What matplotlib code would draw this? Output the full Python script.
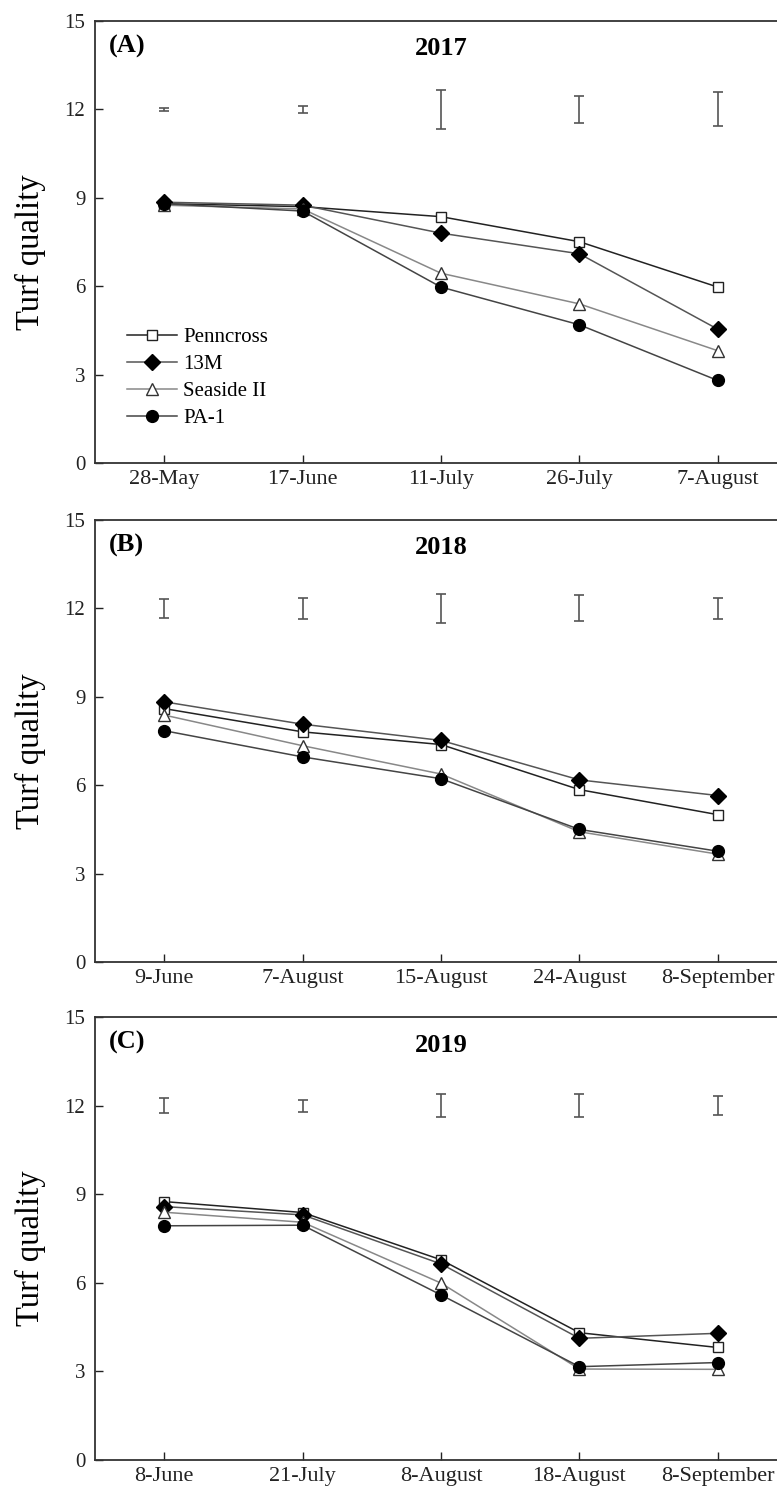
import matplotlib
matplotlib.use('Agg')
import matplotlib.pyplot as plt

plt.rcParams['font.family'] = ['Liberation Serif', 'DejaVu Serif']

# ── Data ──────────────────────────────────────────────────────────────────────
cultivars = ['Penncross', '13M', 'Seaside II', 'PA-1']

dates_2017 = ['28-May', '17-June', '11-July', '26-July', '7-August']
penncross_2017 = [8.80, 8.70, 8.36, 7.51, 5.97]
m13_2017       = [8.85, 8.75, 7.80, 7.10, 4.54]
seaside_2017   = [8.75, 8.62, 6.44, 5.40, 3.81]
pa1_2017       = [8.80, 8.55, 5.97, 4.69, 2.80]
lsd_2017       = [0.05, 0.12, 0.65, 0.45, 0.58]

dates_2018 = ['9-June', '7-August', '15-August', '24-August', '8-September']
penncross_2018 = [8.60, 7.81, 7.38, 5.85, 5.00]
m13_2018       = [8.83, 8.07, 7.52, 6.18, 5.65]
seaside_2018   = [8.38, 7.34, 6.38, 4.42, 3.66]
pa1_2018       = [7.85, 6.96, 6.22, 4.50, 3.76]
lsd_2018       = [0.32, 0.36, 0.48, 0.44, 0.36]

dates_2019 = ['8-June', '21-July', '8-August', '18-August', '8-September']
penncross_2019 = [8.75, 8.38, 6.78, 4.31, 3.81]
m13_2019       = [8.58, 8.30, 6.64, 4.12, 4.29]
seaside_2019   = [8.39, 8.05, 5.99, 3.08, 3.07]
pa1_2019       = [7.93, 7.95, 5.59, 3.16, 3.30]
lsd_2019       = [0.25, 0.20, 0.38, 0.38, 0.33]

lsd_center = 12

panels = [
    ('(A)', '2017', dates_2017, [penncross_2017, m13_2017, seaside_2017, pa1_2017], lsd_2017),
    ('(B)', '2018', dates_2018, [penncross_2018, m13_2018, seaside_2018, pa1_2018], lsd_2018),
    ('(C)', '2019', dates_2019, [penncross_2019, m13_2019, seaside_2019, pa1_2019], lsd_2019),
]

styles = [
    dict(color='#222222', marker='s', mfc='white', mec='#222222', ms=7.5),
    dict(color='#555555', marker='D', mfc='black', mec='black', ms=8),
    dict(color='#888888', marker='^', mfc='white', mec='#333333', ms=9),
    dict(color='#444444', marker='o', mfc='black', mec='black', ms=8.5),
]

W, H = 777, 1491
fig = plt.figure(figsize=(W / 100, H / 100), dpi=100)

# pixel boxes of the three axes (top, bottom) - right edge runs off the figure
tops = [21, 520, 1017]
bottoms = [463, 962, 1460]
left_px, right_px = 95, 787

for (tag, year, dates, series, lsd), top, bot in zip(panels, tops, bottoms):
    ax = fig.add_axes([left_px / W, 1 - bot / H, (right_px - left_px) / W, (bot - top) / H])
    x = list(range(len(dates)))

    for vals, name, st in zip(series, cultivars, styles):
        ax.plot(x, vals, label=name, linewidth=1.1, markeredgewidth=1.0, **st)

    ax.errorbar(x, [lsd_center] * len(x), yerr=lsd, fmt='none', ecolor='#555555',
                elinewidth=1.2, capsize=3.5, capthick=1.2)

    ax.set_xlim(-0.5, len(dates) - 0.5)
    ax.set_ylim(0, 15)
    ax.set_xticks(x)
    ax.set_xticklabels(dates, fontsize=16)
    ax.set_yticks([0, 3, 6, 9, 12, 15])
    ax.tick_params(axis='x', direction='in', length=6, width=1, pad=5, colors='#222222')
    ax.tick_params(axis='y', direction='in', length=6, width=1, pad=7, labelsize=15,
                   colors='#222222')
    for sp in ax.spines.values():
        sp.set_linewidth(1.3)
        sp.set_color('#333333')

    ax.text(-0.4, 14.15, tag, fontsize=19, fontweight='bold', ha='left', va='center')
    ax.text(2, 14.05, year, fontsize=19, fontweight='bold', ha='center', va='center')

    fig.text(30 / W, 1 - ((top + bot) / 2 + 10) / H, 'Turf quality', rotation=90,
             fontsize=23.5, ha='center', va='center')

    if tag == '(A)':
        ax.legend(loc='upper left', bbox_to_anchor=(0.046, 0.307), frameon=False,
                  fontsize=15, handlelength=2.4, handletextpad=0.3,
                  labelspacing=0.36, borderpad=0, borderaxespad=0)

fig.savefig('out.png', dpi=100)
